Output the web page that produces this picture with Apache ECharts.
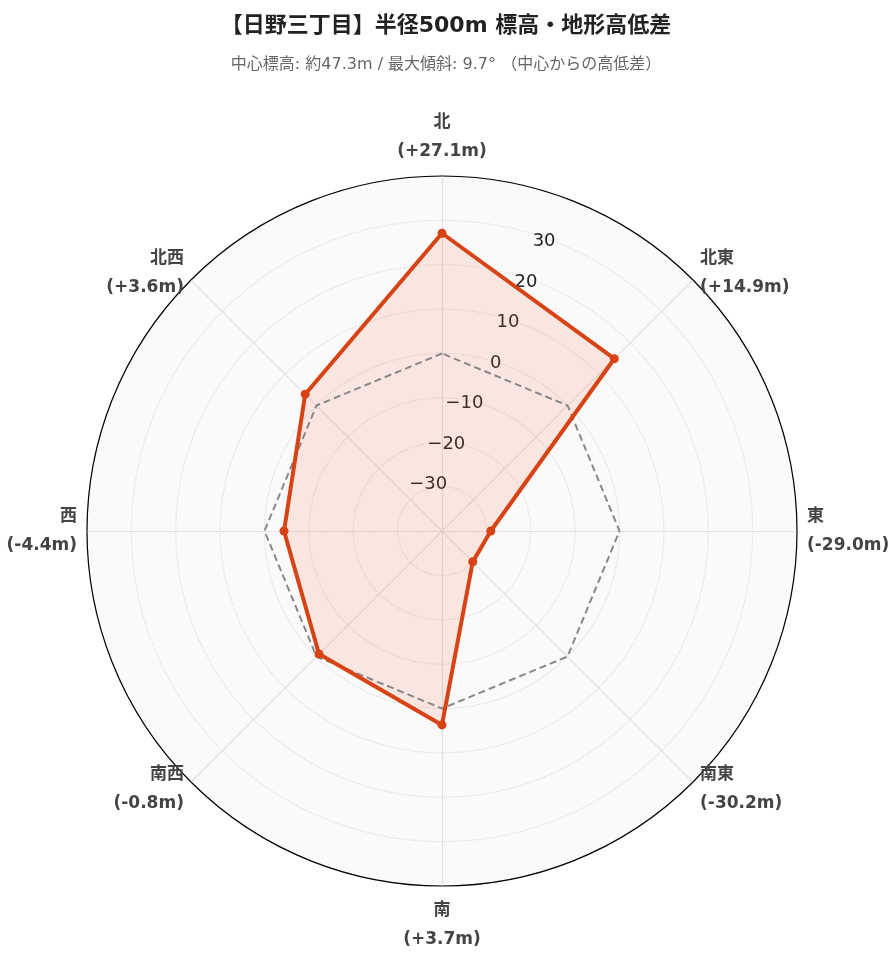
<!DOCTYPE html>
<html><head><meta charset="utf-8">
<script src="https://cdn.jsdelivr.net/npm/echarts@6/dist/echarts.min.js"></script>
<style>html,body{margin:0;padding:0;background:#fff}#c{width:892px;height:962px}</style>
</head><body><div id="c"></div>
<script>
const directions = ['北','北東','東','南東','南','南西','西','北西'];
const diffs = [27.1, 14.9, -29.0, -30.2, 3.7, -0.8, -4.4, 3.6];
const zeroLine = [0,0,0,0,0,0,0,0];
const rMin = -40, rMax = 40;
const titleText = '【日野三丁目】半径500m 標高・地形高低差';
const subText = '中心標高: 約47.3m / 最大傾斜: 9.7° （中心からの高低差）';

// radar draws counter-clockwise; reorder so directions go clockwise
const order = [0,7,6,5,4,3,2,1];
const fmt = v => (v >= 0 ? '+' : '') + v.toFixed(1) + 'm';
const indicators = order.map(i=>({name: directions[i] + '\n(' + fmt(diffs[i]) + ')', min: rMin, max: rMax}));
const vals = order.map(i=>diffs[i]);
const zeros = order.map(i=>zeroLine[i]);
const ff = '"DejaVu Sans","Noto Sans CJK JP",sans-serif';
const chart = echarts.init(document.getElementById('c'));
chart.setOption({
  textStyle:{fontFamily:ff},
  title:{text:titleText, subtext:subText, left:'center', top:10,
    textStyle:{fontSize:22,fontWeight:'bold',color:'#222',fontFamily:ff},
    subtextStyle:{fontSize:16,color:'#666',fontFamily:ff}, itemGap:20},
  radar:[{
    center:[442,531], radius:355, shape:'circle', splitNumber:8, startAngle:90,
    indicator: indicators,
    axisName:{color:'#444',fontSize:17,fontWeight:'bold',lineHeight:29,fontFamily:ff},
    nameGap:10,
    splitLine:{lineStyle:{color:'#ddd',type:'dotted',width:1.2}},
    splitArea:{show:true,areaStyle:{color:['#fafafa']}},
    axisLine:{lineStyle:{color:'#ddd',type:'dotted',width:1.2}}
  },{
    center:[442,531], radius:355, shape:'circle', splitNumber:1, startAngle:90,
    indicator: directions.map(()=>({name:'',min:rMin,max:rMax})),
    axisName:{show:false},
    splitLine:{lineStyle:{color:'#000',width:1.2}},
    splitArea:{show:false}, axisLine:{show:false}, axisTick:{show:false}
  }],
  polar:{center:[442,531], radius:[0,355]},
  angleAxis:{type:'value',startAngle:66,show:false,min:0,max:360},
  radiusAxis:{min:rMin,max:rMax,interval:10,axisLine:{show:false},axisTick:{show:false},splitLine:{show:false},
    axisLabel:{fontSize:18,color:'#222',fontFamily:'"DejaVu Sans",sans-serif',margin:14,
      formatter:v=> (v===rMin||v===rMax)?'':String(v).replace('-','\u2212')}},
  series:[
    {type:'radar',radarIndex:0,z:2,symbol:'none',lineStyle:{width:0},
      areaStyle:{color:'rgba(255,110,80,0.2)'},data:[{value:vals}]},
    {type:'radar',radarIndex:0,z:3,symbol:'none',lineStyle:{color:'#888',width:2,type:[7,4]},
      data:[{value:zeros}]},
    {type:'radar',radarIndex:0,z:4,symbol:'circle',symbolSize:9,
      itemStyle:{color:'#d84315'},lineStyle:{color:'#d84315',width:4},
      data:[{value:vals}]}
  ]
});
</script></body></html>
